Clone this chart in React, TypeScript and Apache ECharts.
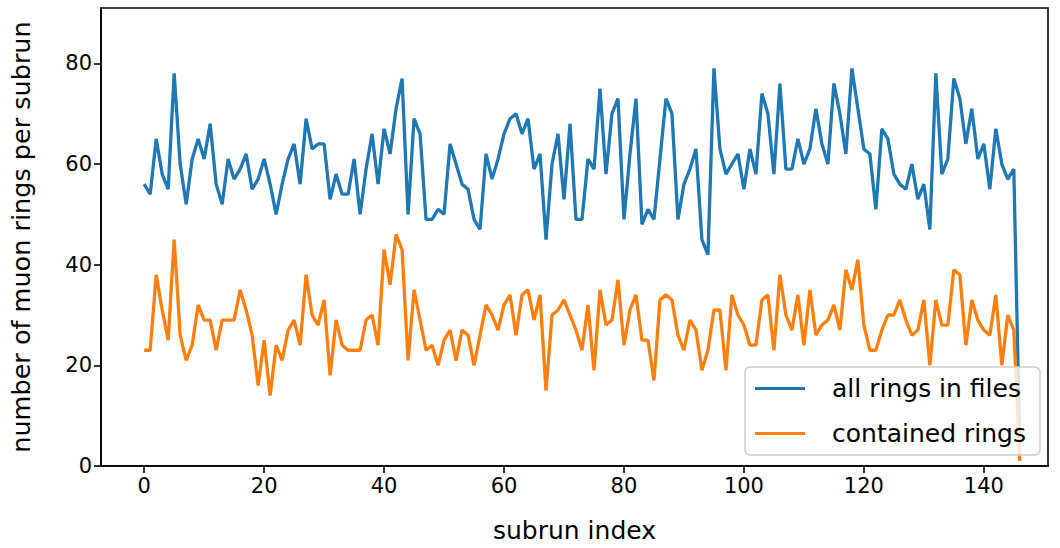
import React, { useEffect, useRef } from "react";
import * as echarts from "echarts";

const allRings: number[] = [
  56, 54, 65, 58, 55, 78, 60, 52, 61, 65, 61, 68, 56, 52, 61, 57, 59, 62, 55, 57,
  61, 56, 50, 56, 61, 64, 56, 69, 63, 64, 64, 53, 58, 54, 54, 61, 50, 59, 66, 56,
  67, 62, 71, 77, 50, 69, 66, 49, 49, 51, 50, 64, 60, 56, 55, 49, 47, 62, 57, 61,
  66, 69, 70, 66, 69, 59, 62, 45, 60, 66, 53, 68, 49, 49, 61, 59, 75, 58, 70, 73,
  49, 62, 73, 48, 51, 49, 61, 73, 70, 49, 56, 59, 63, 45, 42, 79, 63, 58, 60, 62,
  55, 63, 58, 74, 70, 58, 76, 59, 59, 65, 60, 63, 71, 64, 60, 76, 70, 62, 79, 71,
  63, 62, 51, 67, 65, 58, 56, 55, 60, 53, 56, 47, 78, 58, 61, 77, 73, 64, 71, 61,
  64, 55, 67, 60, 57, 59, 3,
];

const containedRings: number[] = [
  23, 23, 38, 31, 25, 45, 26, 21, 24, 32, 29, 29, 23, 29, 29, 29, 35, 31, 26, 16,
  25, 14, 24, 21, 27, 29, 24, 38, 30, 28, 33, 18, 29, 24, 23, 23, 23, 29, 30, 24,
  43, 36, 46, 43, 21, 35, 29, 23, 24, 20, 25, 27, 21, 27, 26, 20, 26, 32, 30, 27,
  32, 34, 26, 34, 35, 29, 34, 15, 30, 31, 33, 30, 27, 23, 32, 19, 35, 28, 29, 37,
  24, 31, 34, 25, 25, 17, 33, 34, 33, 26, 23, 29, 27, 19, 23, 31, 31, 19, 34, 30,
  28, 24, 24, 33, 34, 23, 38, 30, 27, 34, 24, 35, 26, 28, 29, 32, 27, 39, 35, 41,
  28, 23, 23, 27, 30, 30, 33, 29, 26, 27, 33, 20, 33, 28, 28, 39, 38, 24, 33, 29,
  27, 26, 34, 20, 30, 27, 1,
];

const xTicks: number[] = [0, 20, 40, 60, 80, 100, 120, 140];
const yTicks: number[] = [0, 20, 40, 60, 80];
const seriesNames: string[] = ["all rings in files", "contained rings"];
const colors: string[] = ["#1f77b4", "#ff7f0e"];

const FONT = "DejaVu Sans";

export default function App() {
  const ref = useRef<HTMLDivElement>(null);
  useEffect(() => {
    if (!ref.current) return;
    const chart = echarts.init(ref.current, null, { renderer: "svg" });
    const toPairs = (arr: number[]) => arr.map((v, i) => [i, v]);
    chart.setOption({
      animation: false,
      backgroundColor: "#ffffff",
      grid: {
        left: 100,
        right: 12,
        top: 8,
        bottom: 80,
        show: true,
        borderColor: "#000",
        borderWidth: 1.6,
        backgroundColor: "transparent",
      },
      xAxis: {
        type: "value",
        min: -7.2,
        max: 150.7,
        name: "subrun index",
        nameLocation: "middle",
        nameGap: 52,
        nameTextStyle: { fontFamily: FONT, fontSize: 25, color: "#000" },
        axisLine: { show: true, onZero: false, lineStyle: { color: "#000", width: 1.6 } },
        axisTick: {
          show: true,
          length: 7,
          lineStyle: { color: "#000", width: 1.6 },
          customValues: xTicks,
        },
        axisLabel: {
          fontFamily: FONT,
          fontSize: 21,
          color: "#000",
          margin: 9,
          customValues: xTicks,
        },
        splitLine: { show: false },
      },
      yAxis: {
        type: "value",
        min: 0,
        max: 91,
        name: "number of muon rings per subrun",
        nameLocation: "middle",
        nameRotate: 90,
        nameGap: 67,
        nameTextStyle: { fontFamily: FONT, fontSize: 25.5, color: "#000" },
        axisLine: { show: true, onZero: false, lineStyle: { color: "#000", width: 1.6 } },
        axisTick: {
          show: true,
          length: 7,
          lineStyle: { color: "#000", width: 1.6 },
          customValues: yTicks,
        },
        axisLabel: {
          fontFamily: FONT,
          fontSize: 21,
          color: "#000",
          margin: 9,
          customValues: yTicks,
        },
        splitLine: { show: false },
      },
      legend: {
        show: true,
        orient: "vertical",
        right: 20,
        bottom: 93,
        padding: [9, 14, 9, 10],
        itemGap: 20,
        itemWidth: 50,
        itemHeight: 3,
        icon: "rect",
        backgroundColor: "rgba(255,255,255,0.8)",
        borderColor: "#cccccc",
        borderWidth: 1.5,
        borderRadius: 5,
        textStyle: {
          fontFamily: FONT,
          fontSize: 25,
          color: "#000",
          padding: [0, 0, 0, 22],
        },
        data: seriesNames,
      },
      series: [
        {
          name: seriesNames[0],
          type: "line",
          data: toPairs(allRings),
          showSymbol: false,
          symbol: "none",
          color: colors[0],
          lineStyle: { color: colors[0], width: 3.3 },
          z: 2,
        },
        {
          name: seriesNames[1],
          type: "line",
          data: toPairs(containedRings),
          showSymbol: false,
          symbol: "none",
          color: colors[1],
          lineStyle: { color: colors[1], width: 3.3 },
          z: 3,
        },
      ],
    });
    return () => chart.dispose();
  }, []);
  return (
    <div
      ref={ref}
      style={{ position: "fixed", left: 0, top: 0, width: 1060, height: 548 }}
    />
  );
}
